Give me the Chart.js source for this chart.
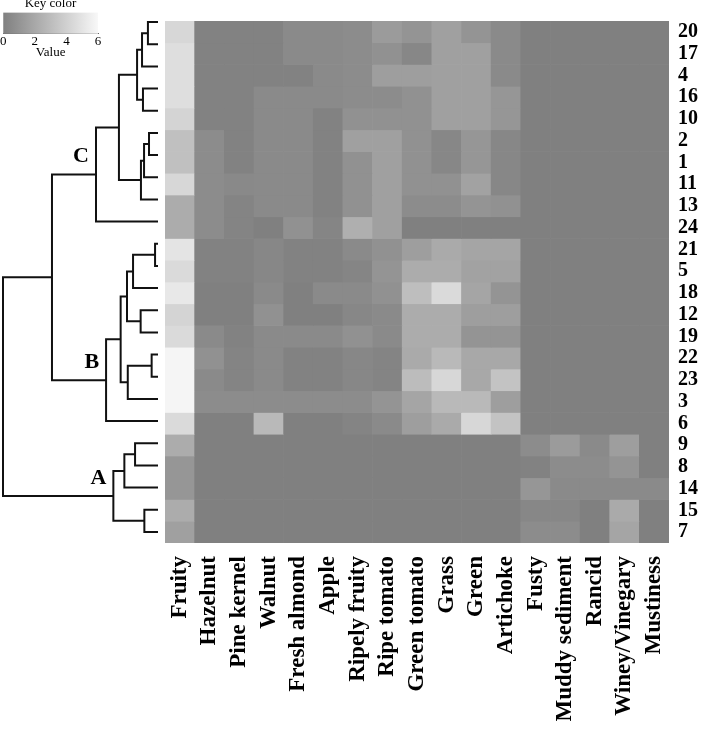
<!DOCTYPE html>
<html>
<head>
<meta charset="utf-8">
<script src="https://cdn.jsdelivr.net/npm/chart.js@4.4.0/dist/chart.umd.min.js"></script>
<style>
  body { margin: 0; background: #fff; }
  #wrap { position: relative; width: 708px; height: 745px; overflow: hidden; }
  canvas { position: absolute; left: 0; top: 0; }
</style>
</head>
<body>
<div id="wrap">
  <canvas id="heat" width="708" height="745"></canvas>
  <canvas id="tree" width="708" height="745"></canvas>
  <canvas id="key" width="112" height="64" style="top:-4px"></canvas>
</div>
<script>
const columns = ['Fruity', 'Hazelnut', 'Pine kernel', 'Walnut', 'Fresh almond', 'Apple',
  'Ripely fruity', 'Ripe tomato', 'Green tomato', 'Grass', 'Green', 'Artichoke',
  'Fusty', 'Muddy sediment', 'Rancid', 'Winey/Vinegary', 'Mustiness'];
const rowLabels = ['20', '17', '4', '16', '10', '2', '1', '11', '13', '24', '21', '5',
  '18', '12', '19', '22', '23', '3', '6', '9', '8', '14', '15', '7'];

// sensory scores per sample (columns in the order above)
const clusterC = [
  [4.35, 0.1, 0.1, 0.1, 0.5, 0.5, 0.6, 1.35, 1.0, 1.6, 1.0, 0.5, 0, 0, 0, 0, 0],
  [4.7, 0.1, 0.1, 0.1, 0.5, 0.5, 0.6, 0.85, 0.35, 1.6, 1.6, 0.5, 0, 0, 0, 0, 0],
  [4.7, 0.1, 0.1, 0.1, 0.1, 0.5, 0.6, 1.5, 1.5, 1.6, 1.6, 0.5, 0, 0, 0, 0, 0],
  [4.7, 0.1, 0.1, 0.5, 0.5, 0.5, 0.6, 0.6, 0.85, 1.6, 1.6, 1.1, 0, 0, 0, 0, 0],
  [4.2, 0.1, 0.1, 0.5, 0.5, 0.1, 0.85, 0.85, 0.85, 1.6, 1.6, 1.1, 0, 0, 0, 0, 0],
  [3.2, 0.6, 0.1, 0.5, 0.5, 0.1, 1.6, 1.6, 0.85, 0.35, 1.1, 0.35, 0, 0, 0, 0, 0],
  [3.2, 0.6, 0.1, 0.5, 0.5, 0.1, 0.85, 1.6, 0.85, 0.35, 1.1, 0.35, 0, 0, 0, 0, 0],
  [4.35, 0.6, 0.45, 0.5, 0.5, 0.1, 0.85, 1.6, 0.85, 0.85, 1.7, 0.35, 0, 0, 0, 0, 0],
  [2.2, 0.6, 0.2, 0.5, 0.5, 0.1, 0.85, 1.6, 0.6, 0.6, 1.0, 0.85, 0, 0, 0, 0, 0],
  [2.2, 0.6, 0.2, 0, 0.85, 0.25, 2.35, 1.6, 0, 0, 0, 0, 0, 0, 0, 0, 0]
];
const clusterB = [
  [5.0, 0.1, 0.1, 0.35, 0.1, 0.1, 0.5, 0.85, 1.5, 2.1, 1.85, 1.85, 0, 0, 0, 0, 0],
  [4.5, 0.1, 0.1, 0.35, 0.1, 0.1, 0.25, 1.0, 2.2, 2.2, 1.7, 1.7, 0, 0, 0, 0, 0],
  [5.2, 0, 0, 0.5, 0, 0.5, 0.5, 0.85, 3.1, 4.5, 1.85, 1.0, 0, 0, 0, 0, 0],
  [4.2, 0, 0, 0.85, 0, 0, 0.35, 0.5, 2.2, 2.2, 1.5, 1.5, 0, 0, 0, 0, 0],
  [4.5, 0.5, 0.1, 0.5, 0.5, 0.5, 0.85, 0.5, 2.2, 2.2, 1.0, 1.0, 0, 0, 0, 0, 0],
  [5.85, 0.85, 0.2, 0.5, 0.1, 0.1, 0.35, 0.2, 2.1, 2.85, 2.0, 2.0, 0, 0, 0, 0, 0],
  [5.85, 0.5, 0.2, 0.5, 0.1, 0.1, 0.35, 0.2, 3.0, 4.35, 2.0, 3.35, 0, 0, 0, 0, 0],
  [5.85, 0.6, 0.6, 0.6, 0.6, 0.6, 0.6, 1.0, 1.85, 2.85, 2.85, 1.5, 0, 0, 0, 0, 0],
  [4.5, 0, 0, 2.85, 0, 0, 0.2, 0.5, 1.5, 2.1, 4.35, 3.35, 0, 0, 0, 0, 0]
];
const clusterA = [
  [2.2, 0, 0, 0, 0, 0, 0, 0, 0, 0, 0, 0, 0.6, 1.35, 0.5, 1.5, 0],
  [1.1, 0, 0, 0, 0, 0, 0, 0, 0, 0, 0, 0, 0.1, 0.6, 0.6, 1.0, 0],
  [1.1, 0, 0, 0, 0, 0, 0, 0, 0, 0, 0, 0, 1.1, 0.5, 0.5, 0.5, 0.5],
  [2.2, 0, 0, 0, 0, 0, 0, 0, 0, 0, 0, 0, 0.35, 0.35, 0, 2.1, 0],
  [1.6, 0, 0, 0, 0, 0, 0, 0, 0, 0, 0, 0, 0.6, 0.6, 0, 1.85, 0]
];

// dendrogram links: leaves are row indexes 0-23, merged nodes are 24+
const linkLeft = [0, 24, 3, 25, 5, 28, 29, 27, 31, 10, 33, 13, 34, 15, 37, 36, 39, 32, 19, 42, 22, 43, 41];
const linkRight = [1, 2, 4, 26, 6, 7, 8, 30, 9, 11, 12, 14, 35, 16, 17, 38, 18, 40, 20, 21, 23, 44, 45];
const linkHeight = [0.65, 1.03, 0.97, 1.35, 0.58, 0.90, 1.10, 2.52, 4.0, 0.19, 1.61, 1.12, 2.0,
  0.41, 1.95, 2.41, 3.35, 6.84, 1.48, 2.17, 0.88, 2.88, 10.0];
const clusterNames = ['C', 'B', 'A'];
const clusterNodes = [32, 40, 45];

const keyTicks = [0, 2, 4, 6];

const serif = '"Liberation Serif", "Times New Roman", serif';
const values = clusterC.concat(clusterB, clusterA);

function gray(v) {
    const g = Math.round(128 + v * 20);
    return `rgb(${g},${g},${g})`;
}

// heatmap: one floating-bar dataset per sample row
new Chart(document.getElementById('heat'), {
    type: 'bar',
    data: {
        labels: columns,
        datasets: values.map((row, r) => ({
            data: row.map(() => [r, r + 1]),
            backgroundColor: row.map(gray),
            borderWidth: 0,
            grouped: false,
            barPercentage: 1,
            categoryPercentage: 1
        }))
    },
    options: {
        responsive: false,
        animation: false,
        devicePixelRatio: 1,
        layout: { padding: { left: 165, top: 11, right: 0, bottom: 0 } },
        plugins: { legend: { display: false }, tooltip: { enabled: false } },
        scales: {
            x: {
                grid: { display: false, drawTicks: false },
                border: { display: false },
                ticks: {
                    autoSkip: false,
                    minRotation: 90,
                    maxRotation: 90,
                    padding: 13,
                    color: '#000',
                    font: { family: serif, size: 23, weight: 'bold' }
                },
                afterFit: scale => { scale.height = 202; }
            },
            y: {
                position: 'right',
                min: 0,
                max: 24,
                reverse: true,
                grid: { display: false, drawTicks: false },
                border: { display: false },
                afterBuildTicks: scale => {
                    scale.ticks = rowLabels.map((_, i) => ({ value: i + 0.5 }));
                },
                ticks: {
                    autoSkip: false,
                    padding: 9,
                    color: '#000',
                    font: { family: serif, size: 20, weight: 'bold' },
                    callback: v => rowLabels[Math.floor(v)]
                },
                afterFit: scale => { scale.width = 39; }
            }
        }
    }
});

// dendrogram
const nodeX = rowLabels.map(() => 0);
const nodeY = rowLabels.map((_, i) => i + 0.5);
const treeSets = linkLeft.map((a, k) => {
    const b = linkRight[k];
    const h = linkHeight[k];
    nodeX.push(h);
    nodeY.push((nodeY[a] + nodeY[b]) / 2);
    return {
        data: [
            { x: nodeX[a], y: nodeY[a] },
            { x: h, y: nodeY[a] },
            { x: h, y: nodeY[b] },
            { x: nodeX[b], y: nodeY[b] }
        ],
        showLine: true,
        borderColor: '#111',
        borderWidth: 2,
        pointRadius: 0,
        tension: 0,
        clip: false
    };
});

const clusterLabels = {
    id: 'clusterLabels',
    afterDatasetsDraw(chart) {
        const { ctx, scales: { x, y } } = chart;
        ctx.save();
        ctx.fillStyle = '#000';
        ctx.font = `bold 22px ${serif}`;
        ctx.textAlign = 'right';
        ctx.textBaseline = 'bottom';
        clusterNames.forEach((name, i) => {
            const n = clusterNodes[i];
            ctx.fillText(name, x.getPixelForValue(nodeX[n]) - 7, y.getPixelForValue(nodeY[n]) - 7);
        });
        ctx.restore();
    }
};

new Chart(document.getElementById('tree'), {
    type: 'scatter',
    data: { datasets: treeSets },
    options: {
        responsive: false,
        animation: false,
        devicePixelRatio: 1,
        layout: { padding: { left: 3, right: 550, top: 11, bottom: 202 } },
        plugins: { legend: { display: false }, tooltip: { enabled: false } },
        scales: {
            x: { type: 'linear', min: 0, max: 10, reverse: true, display: false },
            y: { type: 'linear', min: 0, max: 24, reverse: true, display: false }
        }
    },
    plugins: [clusterLabels]
});

// colour key
new Chart(document.getElementById('key'), {
    type: 'bar',
    data: {
        labels: [''],
        datasets: [{
            data: [[0, 6]],
            backgroundColor: ctx => {
                const area = ctx.chart.chartArea;
                if (!area) return gray(0);
                const grad = ctx.chart.ctx.createLinearGradient(area.left, 0, area.right, 0);
                grad.addColorStop(0, gray(0));
                grad.addColorStop(1, gray(6));
                return grad;
            },
            borderWidth: 0,
            barPercentage: 1,
            categoryPercentage: 1
        }]
    },
    options: {
        indexAxis: 'y',
        responsive: false,
        animation: false,
        devicePixelRatio: 1,
        layout: { padding: { left: 3, right: 14, top: 0, bottom: 0 } },
        plugins: {
            legend: { display: false },
            tooltip: { enabled: false },
            title: {
                display: true,
                text: 'Key color',
                color: '#000',
                font: { family: serif, size: 13, weight: 'normal' },
                padding: { top: 0, bottom: 1 }
            }
        },
        scales: {
            y: { display: false },
            x: {
                min: 0,
                max: 6,
                afterBuildTicks: scale => {
                    scale.ticks = keyTicks.map(v => ({ value: v }));
                },
                grid: { display: false, drawTicks: false },
                border: { display: true, color: '#666' },
                ticks: { padding: 0, color: '#000', font: { family: serif, size: 13 } },
                title: {
                    display: true,
                    text: 'Value',
                    color: '#000',
                    padding: { top: -5, bottom: 0 },
                    font: { family: serif, size: 13 }
                }
            }
        }
    }
});
</script>
</body>
</html>
